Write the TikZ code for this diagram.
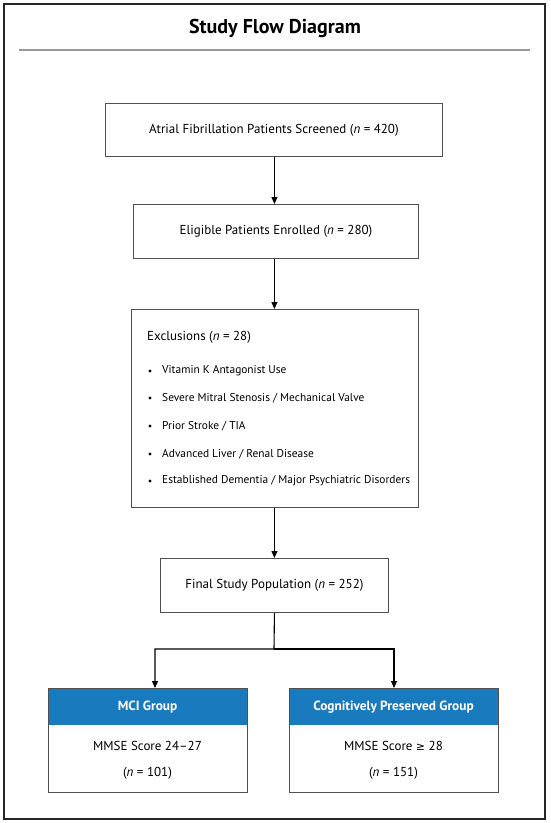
\documentclass[tikz,border=0pt]{standalone}
\usepackage{fontspec}
\setmainfont{PT Sans}
\newfontfamily\symfont{DejaVu Sans}
\usetikzlibrary{arrows.meta}
\definecolor{hdrblue}{RGB}{26,122,190}
\definecolor{boxgray}{RGB}{80,80,80}
\begin{document}
\begin{tikzpicture}[x=1pt,y=-1pt,
  box/.style={draw=boxgray,line width=0.9pt,fill=white},
  txt/.style={font=\fontsize{13}{15}\selectfont,inner sep=0pt},
  bul/.style={font=\fontsize{11.4}{14}\selectfont,inner sep=0pt,anchor=west},
  hdr/.style={font=\fontsize{13.3}{15}\bfseries\selectfont,inner sep=0pt,text=white},
  arr/.style={draw=black,line width=1.1pt,-{Triangle[length=7pt,width=6pt]}},
  conn/.style={draw=black,line width=1.1pt}]
\useasboundingbox (0,0) rectangle (550,823);
\draw[line width=1.6pt,draw=black!85] (4,4) rectangle (545,819);
\node[font=\fontsize{20}{24}\bfseries\selectfont,inner sep=0pt] (title) at (275,28) {Study Flow Diagram};
\draw[draw=black!40,line width=1.2pt] (19,50) -- (530,50);
% boxes
\node[box,minimum width=337pt,minimum height=53pt,anchor=north west] (b1) at (105,103) {};
\node[txt] (t1) at (b1.center) {Atrial Fibrillation Patients Screened (\textit{n} = 420)};
\node[box,minimum width=285pt,minimum height=54pt,anchor=north west] (b2) at (133,204) {};
\node[txt] (t2) at (b2.center) {Eligible Patients Enrolled (\textit{n} = 280)};
\node[box,minimum width=287pt,minimum height=198pt,anchor=north west] (b3) at (131,309) {};
\node[txt,anchor=west] (t3) at (147,337) {Exclusions (\textit{n} = 28)};
\node[bul] (ex1) at (162,371) {Vitamin K Antagonist Use};
\node[bul] (ex2) at (162,398) {Severe Mitral Stenosis / Mechanical Valve};
\node[bul] (ex3) at (162,426) {Prior Stroke / TIA};
\node[bul] (ex4) at (162,454) {Advanced Liver / Renal Disease};
\node[bul] (ex5) at (162,481) {Established Dementia / Major Psychiatric Disorders};
\foreach \yy in {371,398,426,454,481}{\fill (150,\yy) circle (1.7pt);}
\node[box,minimum width=228pt,minimum height=54pt,anchor=north west] (b4) at (160,558) {};
\node[txt] (t4) at (b4.center) {Final Study Population (\textit{n} = 252)};
% group boxes
\node[box,minimum width=199pt,minimum height=104pt,anchor=north west] (g1) at (48,688) {};
\fill[hdrblue] (48,688) rectangle (247,725);
\draw[boxgray,line width=0.9pt] (g1.north west) rectangle (g1.south east);
\node[hdr] (h1) at (147.5,707) {MCI Group};
\node[txt] (m1) at (147.5,746) {MMSE Score 24–27};
\node[txt] (n1) at (147.5,773) {(\textit{n} = 101)};
\node[box,minimum width=209pt,minimum height=104pt,anchor=north west] (g2) at (289,688) {};
\fill[hdrblue] (289,688) rectangle (498,725);
\draw[boxgray,line width=0.9pt] (g2.north west) rectangle (g2.south east);
\node[hdr] (h2) at (393.5,707) {Cognitively Preserved Group};
\node[txt] (m2) at (393.5,746) {MMSE Score {\symfont\fontsize{11}{14}\selectfont ≥} 28};
\node[txt] (n2) at (393.5,773) {(\textit{n} = 151)};
% connectors (common vertical axis x = 274)
\draw[arr] (b4.north |- b1.south) -- (b4.north |- b2.north);
\draw[arr] (b4.north |- b2.south) -- (b4.north |- b3.north);
\draw[arr] (b4.north |- b3.south) -- (b4.north);
\coordinate (split) at (274,649);
\draw[arr] (b4.south) -- (split) -| (155,688);
\draw[arr] (split) -| (394,688);
\end{tikzpicture}
\end{document}
